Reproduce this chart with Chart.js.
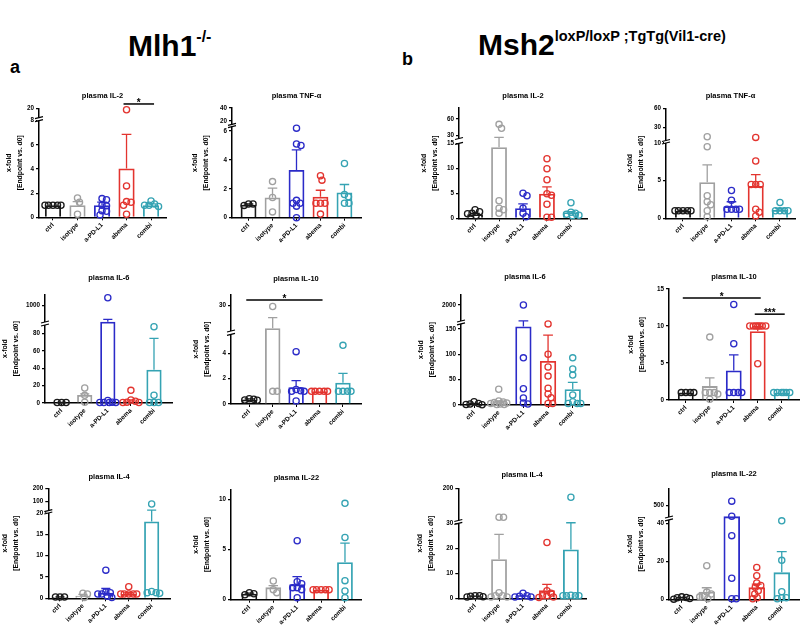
<!DOCTYPE html>
<html><head><meta charset="utf-8">
<script src="https://cdn.jsdelivr.net/npm/chart.js@4.4.1/dist/chart.umd.min.js"></script>
<style>
html,body{margin:0;padding:0;background:#fff;}
#wrap{position:relative;width:800px;height:627px;overflow:hidden;background:#fff;font-family:"Liberation Sans",Arial,sans-serif;}
canvas{position:absolute;}
.hd{position:absolute;font-weight:bold;color:#000;white-space:nowrap;}
</style></head><body><div id="wrap">
<div class="hd" style="left:128px;top:28px;font-size:30px;line-height:36px">Mlh1<span style="font-size:16px;position:relative;top:-14px">-/-</span></div>
<div class="hd" style="left:478px;top:27px;font-size:30px;line-height:36px">Msh2<span style="font-size:14.5px;position:relative;top:-14px">loxP/loxP ;TgTg(Vil1-cre)</span></div>
<div class="hd" style="left:10px;top:57px;font-size:18px;line-height:20px">a</div>
<div class="hd" style="left:402px;top:49px;font-size:18px;line-height:20px">b</div>
</div>
<script>
// ---------- categories & colours ----------
const categories = ['ctrl', 'isotype', 'a-PD-L1', 'abema', 'combi'];
const colors = ['#1a1a1a', '#a0a0a0', '#2b2bc8', '#e3342f', '#35a3b3'];
const yTitle = ['x-fold', '[Endpoint vs. d0]'];

// ---------- Mlh1-/- ----------
const mIL2_title = 'plasma IL-2';
const mIL2_mean = [1.0, 1.0, 1.0, 4.05, 1.0];
const mIL2_err = [1.0, 1.3, 1.25, 6.86, 1.12];
const mIL2_pts = [[1, 1, 1, 1, 1], [1.6, 1.25, 0.25], [1.55, 1.45, 1.0, 0.95, 0.55, 0.5, 0.2], [18.5, 2.6, 1.3, 1.25, 1.0, 0.25], [1.35, 1.1, 1.0, 1.0, 0.9]];
const mIL2_ticks = [0, 2, 4, 6, 8, 20];
const mIL2_range = {lo: 8, hi: 10, top: 20};
const mIL2_sig = [[3, 4, 24.6, '*']];

const mTNF_title = 'plasma TNF-α';
const mTNF_mean = [0.9, 1.4, 3.3, 1.45, 1.75];
const mTNF_err = [0.95, 2.05, 4.7, 1.9, 2.3];
const mTNF_pts = [[0.95, 0.95, 0.85], [2.5, 1.4, 0.4], [6.2, 5.1, 5.0, 1.2, 1.0, 1.0, 0.8, 0.0], [2.9, 2.6, 1.0, 1.0, 1.0, 0.25], [3.75, 1.6, 1.45, 1.0, 1.0]];
const mTNF_ticks = [0, 2, 4, 6, 20, 40];
const mTNF_range = {lo: 6.3, hi: 15, top: 40};

const mIL6_title = 'plasma IL-6';
const mIL6_mean = [0.5, 9.2, 720, 2.0, 38.5];
const mIL6_err = [0.6, 10.5, 761, 3.5, 74.6];
const mIL6_pts = [[0.5, 0.5, 0.5], [17.3, 8.8, 1.0], [1140, 3, 1, 0.5, 0.5, 0.5, 0.5], [14.6, 3.5, 2.0, 1.0, 0.5, 0.5], [88, 9, 0.5, 0.5, 0.5]];
const mIL6_ticks = [0, 20, 40, 60, 80, 1000];
const mIL6_range = {lo: 90, hi: 714, top: 1200};

const mIL10_title = 'plasma IL-10';
const mIL10_mean = [0.35, 10.2, 1.32, 1.0, 1.68];
const mIL10_err = [0.4, 19.5, 1.84, 1.0, 2.42];
const mIL10_pts = [[0.42, 0.38, 0.32, 0.3], [29.3, 1.0, 1.0], [4.13, 1.15, 1.05, 1.0, 1.0, 0.24], [1, 1, 1, 1, 1], [4.63, 1, 1, 1, 1]];
const mIL10_ticks = [0, 2, 4, 30];
const mIL10_range = {lo: 5.5, hi: 7.8, top: 40};
const mIL10_sig = [[0, 3, 35, '*']];

const mIL4_title = 'plasma IL-4';
const mIL4_mean = [0.3, 0.6, 1.3, 1.0, 18];
const mIL4_err = [0.35, 0.9, 2.3, 1.3, 33];
const mIL4_pts = [[0.3, 0.3, 0.3], [1.2, 1.0, 0.2], [6.6, 1.5, 1.3, 1.0, 1.0, 0.5, 0.2], [2.7, 1, 1, 1, 1, 1], [80, 1.6, 1.3, 1.3, 1.2]];
const mIL4_ticks = [0, 5, 10, 15, 20, 100, 200];
const mIL4_range = {lo: 20, hi: 30, top: 200};

const mIL22_title = 'plasma IL-22';
const mIL22_mean = [0.6, 1.23, 1.53, 1.0, 3.73];
const mIL22_err = [0.65, 1.4, 2.3, 1.0, 5.63];
const mIL22_pts = [[0.7, 0.6, 0.5], [1.87, 1.0, 0.7], [5.87, 1.8, 1.6, 1.2, 1.2, 1.0, 0.2], [1, 1, 1, 1, 1], [9.6, 6.2, 1.9, 0.87, 0.2]];
const mIL22_ticks = [0, 5, 10];
const mIL22_range = {lo: 11, hi: 11, top: 11};

// ---------- Msh2 loxP/loxP ----------
const sIL2_title = 'plasma IL-2';
const sIL2_mean = [0.8, 14.2, 2.0, 4.9, 1.2];
const sIL2_err = [1.0, 27, 2.9, 6.3, 1.35];
const sIL2_pts = [[1.7, 1.3, 1.0, 0.9, 0.5], [50.5, 43.3, 3.5, 2.0, 1.7, 1.0], [5.0, 4.5, 2.0, 1.0, 0.3], [11.9, 9.9, 7.7, 4.9, 4.6, 2.8, 0.2, 0.2], [3.1, 1.2, 1.0, 0.8, 0.6, 0.5]];
const sIL2_ticks = [0, 5, 10, 15, 30, 60];
const sIL2_range = {lo: 15, hi: 25, top: 80};

const sTNF_title = 'plasma TNF-α';
const sTNF_mean = [1.0, 4.8, 1.6, 4.3, 1.1];
const sTNF_err = [1.05, 7.1, 2.2, 5.8, 1.3];
const sTNF_pts = [[1, 1, 1, 1, 1], [16, 9.5, 3.0, 2.2, 1.8, 1.0, 0.2], [3.7, 2.4, 1.2, 1.2, 1.2, 1.2], [15, 7.6, 4.5, 4.5, 4.5, 1.2, 0.8, 0.3], [2.1, 1, 1, 1, 1]];
const sTNF_ticks = [0, 5, 10, 30, 60];
const sTNF_range = {lo: 10, hi: 10.2, top: 60};

const sIL6_title = 'plasma IL-6';
const sIL6_mean = [2.0, 5.2, 155, 86.8, 31];
const sIL6_err = [3, 8, 520, 138, 44.8];
const sIL6_pts = [[6.6, 3, 2, 1, 0.5], [31, 8, 6, 5, 4, 3, 2, 1, 1], [2000, 93, 32, 14, 4, 2], [160, 100, 75, 57, 33, 21.7, 14.4, 3, 3], [93, 71, 59, 19.7, 6.6, 3, 3, 3]];
const sIL6_ticks = [0, 50, 100, 150, 2000];
const sIL6_range = {lo: 160, hi: 505, top: 3000};

const sIL10_title = 'plasma IL-10';
const sIL10_mean = [1.0, 1.88, 4.0, 9.3, 1.0];
const sIL10_err = [1.0, 3.0, 6.1, 9.9, 1.0];
const sIL10_pts = [[1, 1, 1, 1], [8.5, 1, 1, 1, 0.8, 0.1], [12.9, 7.6, 1, 1, 1, 1], [10, 10, 10, 10, 10, 10, 10, 4.9], [1, 1, 1, 1, 1, 1]];
const sIL10_ticks = [0, 5, 10, 15];
const sIL10_range = {lo: 15, hi: 15, top: 15};
const sIL10_sig = [[0, 3, 13.8, '*'], [3, 4, 11.6, '***']];

const sIL4_title = 'plasma IL-4';
const sIL4_mean = [0.8, 15.6, 0.8, 3.2, 19.5];
const sIL4_err = [0.9, 25.6, 1.0, 5.6, 31];
const sIL4_pts = [[1.0, 1.0, 0.8, 0.6, 0.5], [52, 52, 2.2, 1.0, 1.0, 0.5, 0.5], [2.0, 1.0, 0.8, 0.5, 0.5], [22.3, 3, 2, 1, 1, 0.5, 0.3], [154, 1.2, 1, 1, 1, 1]];
const sIL4_ticks = [0, 10, 20, 30, 200];
const sIL4_range = {lo: 30, hi: 35, top: 200};

const sIL22_title = 'plasma IL-22';
const sIL22_mean = [1.0, 4.2, 449, 6.5, 14.4];
const sIL22_err = [1.2, 6.3, 449, 8.2, 25.3];
const sIL22_pts = [[1.5, 1.2, 1.0, 0.6, 0.3], [17.9, 4, 3, 2, 1.5, 0.5], [520, 450, 33.7, 11.3, 0.5, 0.5], [17, 12.6, 8.8, 7.5, 6.5, 4.7, 3, 1, 0.5], [41.5, 20.7, 4.2, 1, 1, 0.5]];
const sIL22_ticks = [0, 20, 40, 500];
const sIL22_range = {lo: 42, hi: 446, top: 580};

// ---------- page layout (pixel geometry of each panel) ----------
const layout = {
  mIL2:  {x0: 39, x1: 166, yb: 217.3, yt: 108.3, ty: 96, tx: 9, pLo: 120.7, pHi: 117.7, xmin: -0.57, xmax: 4.61},
  mTNF:  {x0: 232, x1: 361, yb: 217.7, yt: 108, ty: 96, tx: 195, pLo: 126.7, pHi: 124.3, xmin: -0.69, xmax: 4.69},
  sIL2:  {x0: 459, x1: 587, yb: 218.3, yt: 108, ty: 96, tx: 424.3, pLo: 143.3, pHi: 138.5, xmin: -0.67, xmax: 4.67},
  sTNF:  {x0: 666, x1: 795, yb: 218.3, yt: 108.3, ty: 96, tx: 630, pLo: 143, pHi: 140.5, xmin: -0.70, xmax: 4.62},
  mIL6:  {x0: 45, x1: 172.7, yb: 403, yt: 294.3, ty: 278, tx: 5, pLo: 325, pHi: 322, xmin: -0.72, xmax: 4.81},
  mIL10: {x0: 231, x1: 361, yb: 404, yt: 294.3, ty: 279, tx: 196, pLo: 334.3, pHi: 331, xmin: -0.78, xmax: 4.77},
  sIL6:  {x0: 461, x1: 589, yb: 405, yt: 294.3, ty: 277, tx: 421.7, pLo: 323.9, pHi: 321, xmin: -0.53, xmax: 4.66},
  sIL10: {x0: 669, x1: 799, yb: 400, yt: 289, ty: 277, tx: 631.7, pLo: null, pHi: null, xmin: -0.70, xmax: 4.72},
  mIL4:  {x0: 48.3, x1: 170, yb: 598.3, yt: 488.3, ty: 476.7, tx: 5, pLo: 513, pHi: 510.6, xmin: -0.51, xmax: 4.8},
  mIL22: {x0: 231, x1: 361.7, yb: 599.7, yt: 489.3, ty: 477.7, tx: 196, pLo: null, pHi: null, xmin: -0.77, xmax: 4.7},
  sIL4:  {x0: 458.3, x1: 586, yb: 598.3, yt: 488.3, ty: 475, tx: 420, pLo: 523.3, pHi: 520.5, xmin: -0.7, xmax: 4.63},
  sIL22: {x0: 669, x1: 799, yb: 599.7, yt: 488.3, ty: 474.3, tx: 630.7, pLo: 519.9, pHi: 517, xmin: -0.51, xmax: 4.69}
};

const panels = [
  {L: layout.mIL2, title: mIL2_title, mean: mIL2_mean, err: mIL2_err, pts: mIL2_pts, ticks: mIL2_ticks, range: mIL2_range, sig: mIL2_sig},
  {L: layout.mTNF, title: mTNF_title, mean: mTNF_mean, err: mTNF_err, pts: mTNF_pts, ticks: mTNF_ticks, range: mTNF_range},
  {L: layout.sIL2, title: sIL2_title, mean: sIL2_mean, err: sIL2_err, pts: sIL2_pts, ticks: sIL2_ticks, range: sIL2_range},
  {L: layout.sTNF, title: sTNF_title, mean: sTNF_mean, err: sTNF_err, pts: sTNF_pts, ticks: sTNF_ticks, range: sTNF_range},
  {L: layout.mIL6, title: mIL6_title, mean: mIL6_mean, err: mIL6_err, pts: mIL6_pts, ticks: mIL6_ticks, range: mIL6_range},
  {L: layout.mIL10, title: mIL10_title, mean: mIL10_mean, err: mIL10_err, pts: mIL10_pts, ticks: mIL10_ticks, range: mIL10_range, sig: mIL10_sig},
  {L: layout.sIL6, title: sIL6_title, mean: sIL6_mean, err: sIL6_err, pts: sIL6_pts, ticks: sIL6_ticks, range: sIL6_range},
  {L: layout.sIL10, title: sIL10_title, mean: sIL10_mean, err: sIL10_err, pts: sIL10_pts, ticks: sIL10_ticks, range: sIL10_range, sig: sIL10_sig},
  {L: layout.mIL4, title: mIL4_title, mean: mIL4_mean, err: mIL4_err, pts: mIL4_pts, ticks: mIL4_ticks, range: mIL4_range},
  {L: layout.mIL22, title: mIL22_title, mean: mIL22_mean, err: mIL22_err, pts: mIL22_pts, ticks: mIL22_ticks, range: mIL22_range},
  {L: layout.sIL4, title: sIL4_title, mean: sIL4_mean, err: sIL4_err, pts: sIL4_pts, ticks: sIL4_ticks, range: sIL4_range},
  {L: layout.sIL22, title: sIL22_title, mean: sIL22_mean, err: sIL22_err, pts: sIL22_pts, ticks: sIL22_ticks, range: sIL22_range}
];

// ---------- broken-axis scale ----------
function brkDec(v, a) {
  if (!(a.hi > a.lo)) return v / a.top;
  if (v <= a.lo) return a.f * v / a.lo;
  if (v < a.hi) return a.f + a.g * (v - a.lo) / (a.hi - a.lo);
  return a.f + a.g + (1 - a.f - a.g) * (v - a.hi) / (a.top - a.hi);
}
function brkInv(d, a) {
  if (!(a.hi > a.lo)) return d * a.top;
  if (d <= a.f) return d / a.f * a.lo;
  if (d < a.f + a.g) return a.lo + (d - a.f) / a.g * (a.hi - a.lo);
  return a.hi + (d - a.f - a.g) / (1 - a.f - a.g) * (a.top - a.hi);
}
class BrokenScale extends Chart.LinearScale {
  static id = 'broken';
  static defaults = {};
  buildTicks() { return (this.options.tickValues || []).map(v => ({value: v})); }
  getPixelForValue(v) {
    if (v === null || v === undefined || isNaN(v)) return NaN;
    return this.getPixelForDecimal(brkDec(v, this.options.brk));
  }
  getValueForPixel(p) { return brkInv(this.getDecimalForPixel(p), this.options.brk); }
}
Chart.register(BrokenScale);

// beeswarm spreading of overlapping points (layout only, in pixels)
function swarm(vals, a, hPx, unitPx) {
  const d = 4.5, maxOff = 8;
  const order = vals.map((v, i) => ({i, py: brkDec(v, a) * hPx})).sort((p, q) => q.py - p.py);
  const placed = [];
  const out = new Array(vals.length).fill(0);
  order.forEach(o => {
    let chosen = null, bestX = 0, bestD = -1;
    for (let k = 0; k <= maxOff * 4; k++) {
      const mag = Math.ceil(k / 2) * 0.5;
      const x = (k % 2 === 1) ? mag : -mag;
      let minD = Infinity;
      placed.forEach(q => { const dd = Math.hypot(x - q.x, o.py - q.py); if (dd < minD) minD = dd; });
      if (minD >= d) { chosen = x; break; }
      if (minD > bestD + 0.01) { bestD = minD; bestX = x; }
    }
    if (chosen === null) chosen = bestX;
    placed.push({x: chosen, py: o.py});
    out[o.i] = chosen / unitPx;
  });
  return out;
}

const wrap = document.getElementById('wrap');
const FONT = '"Liberation Sans", Arial, sans-serif';

function build(p) {
  const L = p.L;
  const cl = Math.round(L.tx - 5.5);
  const ct = Math.round(L.yt - 32);
  const W = Math.round(L.x1 - cl + 12);
  const H = Math.round(L.yb - ct + 46);
  const cv = document.createElement('canvas');
  cv.width = W; cv.height = H;
  cv.style.left = cl + 'px'; cv.style.top = ct + 'px';
  cv.style.width = W + 'px'; cv.style.height = H + 'px';
  wrap.appendChild(cv);

  const plotH = L.yb - L.yt;
  const brk = {
    lo: p.range.lo, hi: p.range.hi, top: p.range.top,
    f: L.pLo != null ? (L.yb - L.pLo) / plotH : 1,
    g: L.pLo != null ? (L.pLo - L.pHi) / plotH : 0
  };
  const unitPx = (L.x1 - L.x0) / (L.xmax - L.xmin);
  const titleBox = L.yt - ct;
  const tLH = 9;
  const Tt = L.ty - ct - tLH / 2;
  const Tb = titleBox - tLH - Tt;
  const yW = L.x0 - cl;
  const xH = H - (L.yb - ct);
  const padR = W - (L.x1 - cl);

  const datasets = [{
    type: 'bar',
    data: p.mean.map((v, i) => ({x: i, y: v})),
    borderColor: colors,
    backgroundColor: 'rgba(255,255,255,0)',
    borderWidth: 1.8,
    barPercentage: 0.66,
    categoryPercentage: 1,
    order: 1
  }];
  p.pts.forEach((arr, c) => {
    const jit = swarm(arr, brk, plotH, unitPx);
    datasets.push({
      type: 'scatter',
      data: arr.map((v, j) => ({x: c + jit[j], y: v})),
      borderColor: colors[c],
      backgroundColor: 'rgba(0,0,0,0)',
      pointRadius: 3.1, pointHoverRadius: 3.1, pointBorderWidth: 1.3,
      showLine: false, order: 0, clip: false
    });
  });

  const deco = {
    id: 'deco',
    afterDatasetDraw(chart, args) {
      if (args.meta.type !== 'bar') return;
      const ctx = chart.ctx, ys = chart.scales.y;
      args.meta.data.forEach((bar, i) => {
        const top = p.err[i], m = p.mean[i];
        if (top == null || top <= m) return;
        const y1 = ys.getPixelForValue(top);
        const cw = bar.width * 0.6;
        ctx.save();
        ctx.strokeStyle = colors[i]; ctx.lineWidth = 1.3;
        ctx.beginPath();
        ctx.moveTo(bar.x, bar.y); ctx.lineTo(bar.x, y1);
        ctx.moveTo(bar.x - cw / 2, y1); ctx.lineTo(bar.x + cw / 2, y1);
        ctx.stroke();
        ctx.restore();
      });
    },
    afterDraw(chart) {
      const ctx = chart.ctx, ys = chart.scales.y, xs = chart.scales.x;
      if (brk.hi > brk.lo) {
        const pl = ys.getPixelForValue(brk.lo), ph = ys.getPixelForValue(brk.hi);
        const ax = chart.chartArea.left;
        ctx.save();
        ctx.fillStyle = '#fff';
        ctx.fillRect(ax - 2, ph, 4, pl - ph);
        ctx.strokeStyle = '#000'; ctx.lineWidth = 1.2;
        ctx.beginPath();
        ctx.moveTo(ax - 4, pl + 1); ctx.lineTo(ax + 4, pl - 1);
        ctx.moveTo(ax - 4, ph + 1); ctx.lineTo(ax + 4, ph - 1);
        ctx.stroke();
        ctx.restore();
      }
      (p.sig || []).forEach(([a, b, v, lab]) => {
        const xa = xs.getPixelForValue(a) - 3, xb = xs.getPixelForValue(b) + 3;
        const y = ys.getPixelForValue(v);
        ctx.save();
        ctx.strokeStyle = '#000'; ctx.lineWidth = 1.5;
        ctx.beginPath(); ctx.moveTo(xa, y); ctx.lineTo(xb, y); ctx.stroke();
        ctx.fillStyle = '#000';
        ctx.font = 'bold 10px ' + FONT;
        ctx.textAlign = 'center'; ctx.textBaseline = 'alphabetic';
        ctx.fillText(lab, (xa + xb) / 2, y + 2);
        ctx.restore();
      });
    }
  };

  new Chart(cv, {
    type: 'bar',
    data: {datasets},
    options: {
      responsive: false, animation: false, devicePixelRatio: 1,
      layout: {padding: {left: 0, right: padR, top: 0, bottom: 0}},
      plugins: {
        legend: {display: false},
        tooltip: {enabled: false},
        title: {
          display: true, text: p.title, fullSize: false, color: '#000',
          font: {family: FONT, size: 7.5, weight: 'bold', lineHeight: tLH + 'px'},
          padding: {top: Tt, bottom: Tb}
        }
      },
      scales: {
        x: {
          type: 'linear', min: L.xmin, max: L.xmax, offset: false,
          grid: {offset: false, drawOnChartArea: false, drawTicks: true, tickLength: 3, color: '#000', lineWidth: 1},
          border: {display: true, color: '#000', width: 1.5},
          ticks: {
            stepSize: 1, autoSkip: false, maxRotation: 45, minRotation: 45, padding: 1,
            color: '#000', font: {family: FONT, size: 6.4, weight: 'bold'},
            callback: v => categories[v] !== undefined ? categories[v] : ''
          },
          afterBuildTicks: s => { s.ticks = s.ticks.filter(t => Number.isInteger(t.value) && t.value >= 0 && t.value < categories.length); },
          afterFit: s => { s.height = xH; }
        },
        y: {
          type: 'broken', min: 0, max: p.range.top,
          brk: brk, tickValues: p.ticks,
          grid: {drawOnChartArea: false, drawTicks: true, tickLength: 3, color: '#000', lineWidth: 1.2},
          border: {display: true, color: '#000', width: 1.5},
          ticks: {autoSkip: false, padding: 2, color: '#000', font: {family: FONT, size: 6.3, weight: 'bold'}, callback: v => String(v)},
          title: {display: true, text: yTitle, color: '#000', padding: {top: 0, bottom: 0},
                  font: {family: FONT, size: 6.8, weight: 'bold', lineHeight: '11px'}},
          afterFit: s => { s.width = yW; }
        }
      }
    },
    plugins: [deco]
  });
}

panels.forEach(build);
</script>
</body></html>
